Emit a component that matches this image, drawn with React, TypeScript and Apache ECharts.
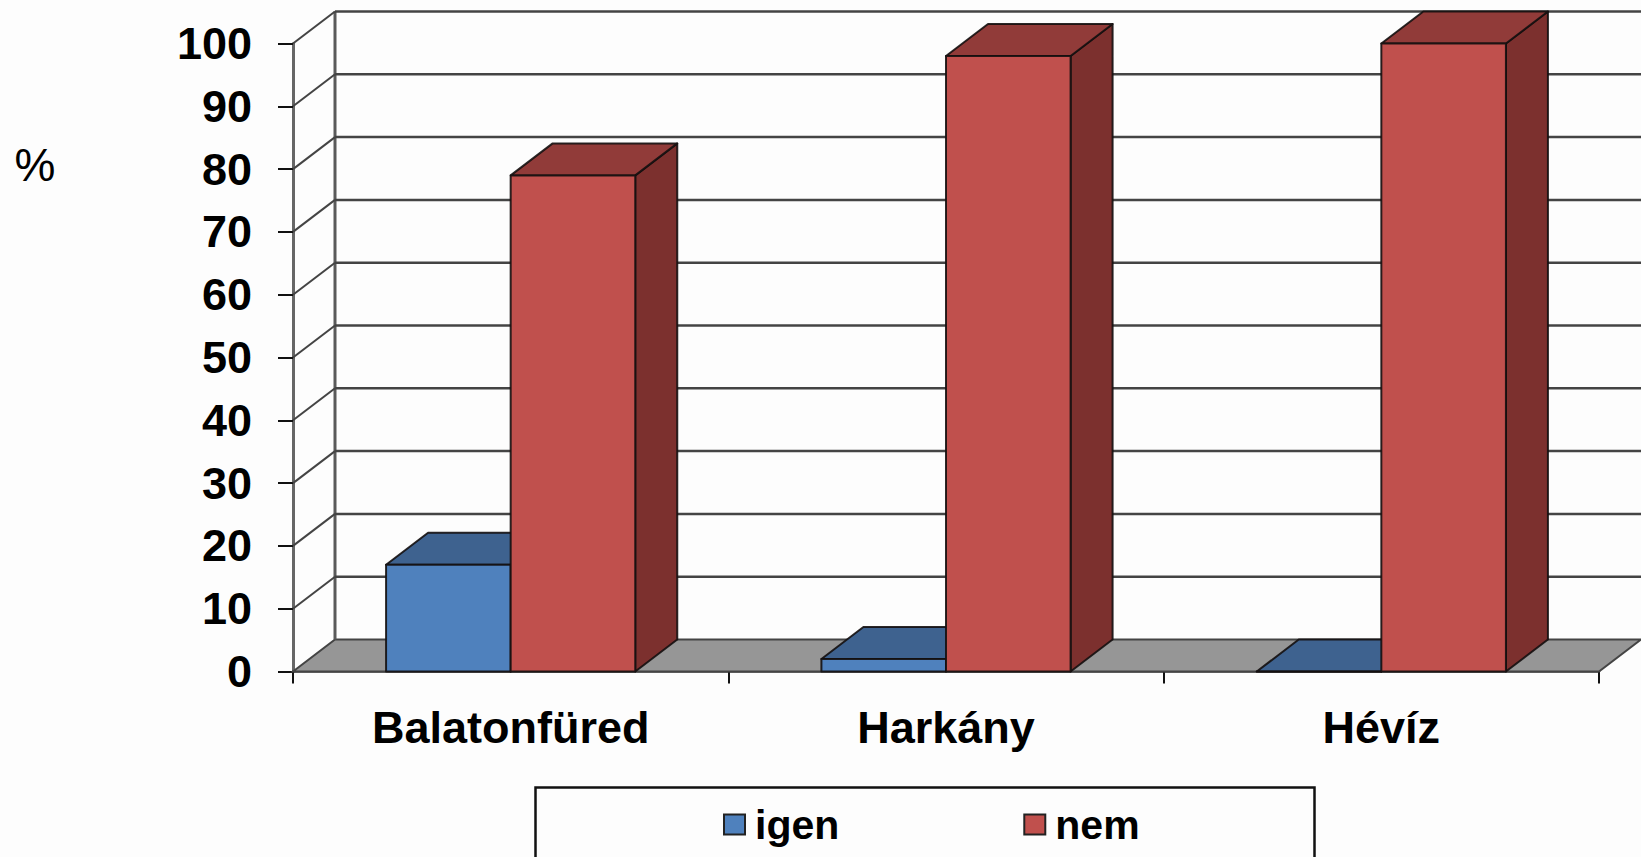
import React, { useEffect, useRef } from "react";
import * as echarts from "echarts";

const categories = ["Balatonfüred", "Harkány", "Hévíz"];
const igenValues = [17, 2, 0];
const nemValues = [79, 98, 100];
const yTicks = [0, 10, 20, 30, 40, 50, 60, 70, 80, 90, 100];

const DEPTH_X = 42;
const DEPTH_Y = -32;
const BAR_RATIO = 0.2862;
const FONT = '"Liberation Sans", Arial, sans-serif';
const EDGE = "rgba(20,15,15,0.9)";
const GRIDC = "#444444";

function box(api: any, params: any, side: number, front: string, top: string, right: string) {
  const i = api.value(0);
  const v = api.value(1);
  const [cx, yTop] = api.coord([i, v]);
  const [, yBase] = api.coord([i, 0]);
  const w = api.size([1, 0])[0] * BAR_RATIO;
  const x0 = side < 0 ? cx - w : cx;
  const x1 = x0 + w;
  const st = (fill: string) => ({ fill, stroke: EDGE, lineWidth: 2, lineJoin: "round" });
  return {
    type: "group",
    children: [
      {
        type: "polygon",
        shape: { points: [[x1, yBase], [x1 + DEPTH_X, yBase + DEPTH_Y], [x1 + DEPTH_X, yTop + DEPTH_Y], [x1, yTop]] },
        style: st(right),
      },
      {
        type: "polygon",
        shape: { points: [[x0, yTop], [x0 + DEPTH_X, yTop + DEPTH_Y], [x1 + DEPTH_X, yTop + DEPTH_Y], [x1, yTop]] },
        style: st(top),
      },
      {
        type: "rect",
        shape: { x: x0, y: yTop, width: w, height: yBase - yTop },
        style: st(front),
      },
    ],
  };
}

function frame(params: any, api: any) {
  const v = api.value(1);
  const cs = params.coordSys;
  const y = api.coord([0, v])[1];
  const left = cs.x;
  const right = cs.x + cs.width;
  const backX = left + DEPTH_X;
  const backY = y + DEPTH_Y;
  const children: any[] = [];
  if (v === 0) {
    children.push({
      type: "polygon",
      shape: { points: [[left, y], [backX, backY], [right + DEPTH_X, backY], [right, y]] },
      style: { fill: "#969696", stroke: "#444", lineWidth: 2 },
    });
    const topY = api.coord([0, 100])[1] + DEPTH_Y;
    children.push({
      type: "line",
      shape: { x1: backX, y1: backY, x2: backX, y2: topY },
      style: { stroke: "#5a5a5a", lineWidth: 3 },
    });
  } else {
    children.push({
      type: "line",
      shape: { x1: backX, y1: backY, x2: 1641, y2: backY },
      style: { stroke: GRIDC, lineWidth: 2.5 },
    });
    children.push({
      type: "line",
      shape: { x1: left, y1: y, x2: backX, y2: backY },
      style: { stroke: GRIDC, lineWidth: 2 },
    });
  }
  return { type: "group", children };
}

export default function App() {
  const ref = useRef<HTMLDivElement>(null);
  useEffect(() => {
    if (!ref.current) return;
    const chart = echarts.init(ref.current, undefined, { renderer: "svg" });
    chart.setOption({
      animation: false,
      backgroundColor: "#fdfdfd",
      textStyle: { fontFamily: FONT },
      grid: { left: 293, right: 42, top: 43.5, bottom: 185.5 },
      xAxis: {
        type: "category",
        data: categories,
        axisLine: { show: true, lineStyle: { color: "#444", width: 2.5 } },
        axisTick: { show: true, alignWithLabel: false, length: 12, lineStyle: { color: "#111", width: 2 } },
        axisLabel: { fontFamily: FONT, fontSize: 45, fontWeight: "bold", color: "#000", margin: 33, interval: 0 },
      },
      yAxis: {
        type: "value",
        min: 0,
        max: 100,
        interval: 10,
        splitLine: { show: false },
        axisLine: { show: true, lineStyle: { color: "#666", width: 3 } },
        axisTick: { show: true, length: 15, lineStyle: { color: "#111", width: 2 } },
        axisLabel: {
          fontFamily: FONT,
          fontSize: 45,
          fontWeight: "bold",
          color: "#000",
          margin: 41,
        },
      },
      legend: {
        show: true,
        data: ["igen", "nem"],
        left: 723,
        top: 804,
        padding: 0,
        icon: "rect",
        itemWidth: 21,
        itemHeight: 20,
        itemGap: 184,
        selectedMode: false,
        itemStyle: { borderColor: "#222", borderWidth: 2 },
        textStyle: { fontFamily: FONT, fontSize: 41, fontWeight: "bold", color: "#000", padding: [0, 0, 0, 5] },
      },
      graphic: [
        {
          type: "rect",
          z: -1,
          shape: { x: 535.5, y: 787.5, width: 779, height: 90 },
          style: { fill: "#fdfdfd", stroke: "#111", lineWidth: 2.5 },
        },
        {
          type: "text",
          x: 35,
          y: 165,
          style: {
            text: "%",
            fontFamily: FONT,
            fontSize: 46,
            fill: "#000",
            align: "center",
            verticalAlign: "middle",
          },
        },
      ],
      series: [
        {
          name: "frame",
          type: "custom",
          silent: true,
          data: yTicks.map((t) => [0, t]),
          encode: { x: 0, y: 1 },
          renderItem: frame,
          z: 1,
        },
        {
          name: "igen",
          type: "custom",
          data: igenValues.map((v, i) => [i, v]),
          encode: { x: 0, y: 1 },
          itemStyle: { color: "#4F81BD" },
          renderItem: (p: any, api: any) => box(api, p, -1, "#4F81BD", "#3E628F", "#3A5C86"),
          z: 2,
        },
        {
          name: "nem",
          type: "custom",
          data: nemValues.map((v, i) => [i, v]),
          encode: { x: 0, y: 1 },
          itemStyle: { color: "#C0504D" },
          renderItem: (p: any, api: any) => box(api, p, 1, "#C0504D", "#913B39", "#7C302E"),
          z: 3,
        },
      ],
    });
    return () => chart.dispose();
  }, []);
  return (
    <div
      ref={ref}
      style={{ position: "fixed", left: 0, top: 0, width: 1641, height: 857 }}
    />
  );
}
